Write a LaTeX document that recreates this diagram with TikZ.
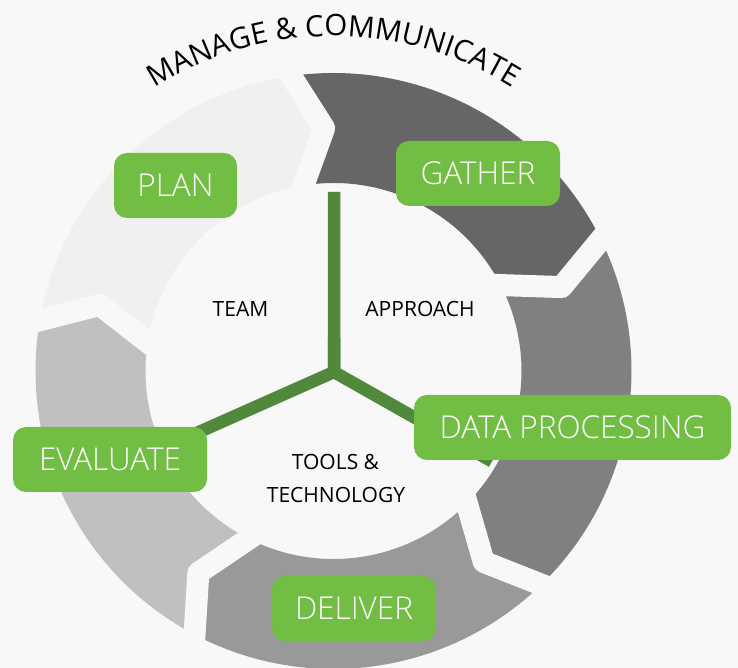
\documentclass[tikz,border=0pt]{standalone}
\usepackage{fontspec}
\setmainfont{Open Sans}
\newfontfamily\boxfont{Open Sans Light}
\usetikzlibrary{calc,decorations.text}
\definecolor{bgc}{HTML}{F8F8F8}
\definecolor{plancol}{HTML}{F0F0F0}
\definecolor{gathercol}{HTML}{666666}
\definecolor{dpcol}{HTML}{808080}
\definecolor{delivercol}{HTML}{999999}
\definecolor{evalcol}{HTML}{C0C0C0}
\definecolor{boxgreen}{HTML}{72BE44}
\definecolor{ygreen}{HTML}{50893C}
\begin{document}
\begin{tikzpicture}[x=1pt,y=1pt,
  boxnode/.style={fill=boxgreen, rounded corners=13pt, text=white,
    font=\boxfont\fontsize{31.5}{31.5}\selectfont, minimum height=65pt, inner sep=0pt},
  lbl/.style={font=\fontsize{21}{21}\selectfont, text=black, anchor=base, inner sep=0pt},
  gapline/.style={draw=bgc, line width=22pt, line join=round},
  yarm/.style={draw=ygreen, line width=12.5pt, line join=miter}]
\useasboundingbox (0,0) rectangle (738,668);
\fill[bgc] (0,0) rectangle (738,668);
\def\Ro{298}\def\Ri{188}\def\Rm{243}
\begin{scope}[shift={(333.5,297)}]
  \foreach \a/\b/\c in {170.2/98.2/plancol, 98.2/26.2/gathercol, 26.2/-45.8/dpcol,
      -45.8/-117.8/delivercol, -117.8/-189.8/evalcol}
    \fill[\c] (\a:\Ro) arc[start angle=\a, end angle=\b, radius=\Ro]
      -- ({\b-6}:\Rm) -- ({\b+1}:\Ri)
      arc[start angle={\b+1}, end angle={\a+1}, radius=\Ri]
      -- ({\a-6}:\Rm) -- cycle;
  \foreach \g in {98.2,26.2,-45.8,-117.8,170.2}
    \draw[gapline] ($({\g-6}:\Rm)!1.4!(\g:\Ro)$) -- ({\g-6}:\Rm)
      -- ($({\g-6}:\Rm)!1.4!({\g+1}:\Ri)$);
  \path[decorate, decoration={text along path,
      text={|\fontsize{29.5}{29.5}\selectfont|MANAGE {\&} COMMUNICATE},
      text align=center}]
    (123:335) arc[start angle=123, end angle=57, radius=335];
\end{scope}
% hub
\coordinate (hub) at (334,296);
\coordinate (ytop) at (334,476);
\coordinate (yright) at (492,206.6);
\coordinate (yleft) at (190,232);
\draw[yarm] (ytop) -- (hub) -- (yright);
\draw[yarm] (yleft) -- (hub) -- (334,330);
% boxes
\node[boxnode, minimum width=123pt] (plan) at (175.5,482.5) {PLAN};
\node[boxnode, minimum width=164pt] (gather) at (478,494.5) {GATHER};
\node[boxnode, minimum width=317pt] (dp) at (572.5,240.5) {DATA PROCESSING};
\node[boxnode, minimum width=164pt] (deliver) at (354,59.5) {DELIVER};
\node[boxnode, minimum width=194pt] (evaluate) at (110,208.5) {EVALUATE};
% inner labels
\node[lbl] (team) at (240.5,351) {TEAM};
\node[lbl] (approach) at (420,351) {APPROACH};
\node[lbl] (tools) at (335.5,198) {TOOLS \&};
\node[lbl] (tech) at (336,165) {TECHNOLOGY};
\end{tikzpicture}
\end{document}
